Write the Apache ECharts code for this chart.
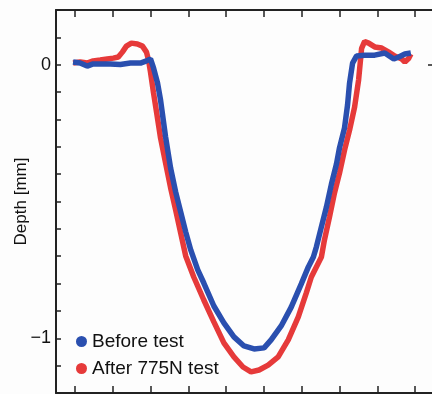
<!DOCTYPE html>
<html>
<head>
<meta charset="utf-8">
<script src="https://cdn.jsdelivr.net/npm/echarts@6/dist/echarts.min.js"></script>
<style>
html,body{margin:0;padding:0;background:#fdfdfd;}
#c{width:432px;height:394px;}
</style>
</head>
<body>
<div id="c"></div>
<script>
// ---- data ----
var seriesNames = ['Before test', 'After 775N test'];
var beforeX = [-0.048,0.138,0.324,0.484,0.670,0.936,1.202,1.468,1.734,1.894,2.000,2.080,2.186,2.266,2.399,2.532,2.665,2.798,2.931,3.064,3.250,3.410,3.676,3.941,4.207,4.473,4.739,5.005,5.191,5.457,5.723,5.989,6.176,6.309,6.388,6.521,6.654,6.787,6.920,7.000,7.133,7.213,7.266,7.346,7.452,7.665,7.931,8.197,8.436,8.569,8.729,8.888];
var beforeY = [0.010,0.006,-0.005,0.003,0.003,0.003,0.001,0.006,0.006,0.014,0.021,-0.012,-0.067,-0.129,-0.264,-0.378,-0.465,-0.538,-0.611,-0.677,-0.750,-0.798,-0.882,-0.944,-0.995,-1.028,-1.039,-1.035,-1.006,-0.955,-0.886,-0.801,-0.739,-0.703,-0.666,-0.593,-0.520,-0.436,-0.363,-0.304,-0.231,-0.147,-0.067,0.006,0.032,0.035,0.035,0.043,0.021,0.028,0.039,0.043];
var afterX = [-0.048,0.138,0.324,0.484,0.670,0.856,1.016,1.149,1.255,1.362,1.495,1.654,1.787,1.894,1.947,2.000,2.080,2.160,2.266,2.399,2.532,2.665,2.798,2.931,3.144,3.410,3.676,3.941,4.207,4.447,4.660,4.872,5.112,5.378,5.644,5.910,6.122,6.255,6.521,6.601,6.734,6.867,7.000,7.133,7.266,7.399,7.505,7.585,7.665,7.771,7.931,8.117,8.303,8.463,8.649,8.729,8.835,8.888];
var afterY = [0.006,0.010,0.006,0.014,0.017,0.021,0.024,0.028,0.046,0.068,0.079,0.076,0.068,0.046,0.017,-0.027,-0.103,-0.173,-0.268,-0.359,-0.450,-0.531,-0.615,-0.699,-0.776,-0.860,-0.940,-1.017,-1.068,-1.105,-1.123,-1.116,-1.098,-1.068,-1.006,-0.922,-0.834,-0.776,-0.703,-0.641,-0.557,-0.469,-0.396,-0.312,-0.239,-0.155,-0.056,0.060,0.085,0.079,0.065,0.061,0.046,0.032,0.021,0.010,0.024,0.039];
var xTicks = [0,1,2,3,4,5,6,7,8,9];
var yMajorTicks = [0,-1];
var yTickLabels = {'0':'0','-1':'\u22121'};
var yAxisTitle = 'Depth [mm]';

function zip(xs, ys){ return xs.map(function(x,i){ return [x, ys[i]]; }); }

var FONT = 'Liberation Sans, Arial, sans-serif';
var AX = '#222';
var BLUE = '#2a4faf';
var RED = '#e63a3a';

var chart = echarts.init(document.getElementById('c'), null, {renderer:'canvas'});
chart.setOption({
  backgroundColor: '#fdfdfd',
  animation: false,
  grid: {left: 56, right: -2, top: 10, bottom: 1, containLabel: false, outerBoundsMode: 'none'},
  legend: {
    data: seriesNames,
    orient: 'vertical',
    left: 71, top: 327,
    icon: 'circle', itemWidth: 11, itemHeight: 11, itemGap: 8,
    textStyle: {fontFamily: FONT, fontSize: 19, color: '#111'}
  },
  xAxis: [
    {type:'value', position:'bottom', min:-0.5, max:9.5,
     axisLine:{show:true, onZero:false, lineStyle:{color:AX, width:2}},
     axisTick:{show:true, inside:true, length:7, customValues: xTicks, lineStyle:{color:AX, width:1.5}},
     axisLabel:{show:false}, splitLine:{show:false}},
    {type:'value', position:'top', min:-0.5, max:9.5,
     axisLine:{show:true, onZero:false, lineStyle:{color:AX, width:2}},
     axisTick:{show:true, inside:true, length:7, customValues: xTicks, lineStyle:{color:AX, width:1.5}},
     axisLabel:{show:false}, splitLine:{show:false}}
  ],
  yAxis: [
    {type:'value', position:'left', min:-1.2, max:0.2, interval:0.1,
     name: yAxisTitle, nameLocation:'middle', nameGap: 26, nameRotate: 90, nameMoveOverlap: false,
     nameTextStyle:{fontFamily:FONT, fontSize:17, color:'#111'},
     axisLine:{show:true, onZero:false, lineStyle:{color:AX, width:2}},
     axisTick:{show:true, inside:true, length:5, lineStyle:{color:AX, width:1.5}},
     axisLabel:{show:true, margin:5, fontFamily:FONT, fontSize:18, color:'#111',
       customValues: yMajorTicks,
       formatter:function(v){ var k = String(Math.round(v)); return (Math.abs(v-Math.round(v))<1e-6 && yTickLabels[k]!==undefined) ? yTickLabels[k] : ''; }},
     splitLine:{show:false}},
    {type:'value', position:'right', min:-1.2, max:0.2,
     axisLine:{show:true, onZero:false, lineStyle:{color:AX, width:2}},
     axisTick:{show:true, inside:true, length:6, customValues: [0], lineStyle:{color:AX, width:1.5}},
     axisLabel:{show:false}, splitLine:{show:false}}
  ],
  series: [
    {name: seriesNames[1], type:'line', data: zip(afterX, afterY), showSymbol:false, symbol:'circle',
     itemStyle:{color:RED}, lineStyle:{color:RED, width:5.5}, z:2},
    {name: seriesNames[0], type:'line', data: zip(beforeX, beforeY), showSymbol:false, symbol:'circle',
     itemStyle:{color:BLUE}, lineStyle:{color:BLUE, width:5.5}, z:3}
  ]
});
</script>
</body>
</html>
